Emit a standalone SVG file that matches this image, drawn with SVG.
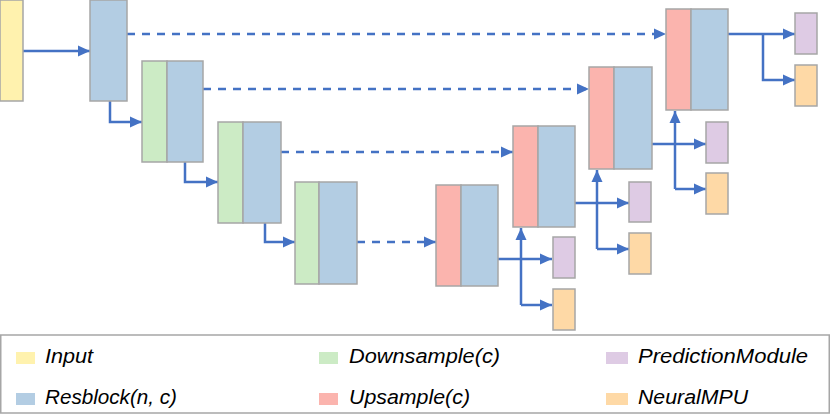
<svg xmlns="http://www.w3.org/2000/svg" width="831" height="415" viewBox="0 0 831 415">
<style>
.b{stroke:#a6a6a6;stroke-width:1.5}
.in{fill:#fff2ae}.rs{fill:#b3cde3}.dn{fill:#ccebc5}.up{fill:#fbb4ae}.pm{fill:#decbe4}.nm{fill:#fed9a6}
.c{fill:none;stroke:#4472c4;stroke-width:2.5}
.d{stroke-dasharray:8 7}
.a{marker-end:url(#ah)}
.t{font-family:"Liberation Sans",Arial,sans-serif;font-style:italic;font-size:20px;fill:#000}
</style>
<defs>
<marker id="ah" markerUnits="userSpaceOnUse" markerWidth="12" markerHeight="12" viewBox="0 0 12 12" refX="12" refY="6" orient="auto">
<path d="M0,0.5 L12,6 L0,11.5 Z" fill="#4472c4"/>
</marker>
</defs>
<g id="connectors">
<path class="c a" d="M23,51 H90"/>
<path class="c d a" d="M127,34 H666"/>
<path class="c a" d="M110,101 V122 H142"/>
<path class="c d a" d="M203,89 H589"/>
<path class="c a" d="M185,162 V182 H218"/>
<path class="c d a" d="M281,152 H513"/>
<path class="c a" d="M265,223 V242 H295"/>
<path class="c d a" d="M357,242 H436"/>
<path class="c a" d="M498,259 H552"/>
<path class="c a" d="M521,305 V228"/>
<path class="c a" d="M521,305 H552"/>
<path class="c a" d="M575,203 H629"/>
<path class="c a" d="M597,249 V170"/>
<path class="c a" d="M597,249 H629"/>
<path class="c a" d="M652,144 H706"/>
<path class="c a" d="M675,189 V111"/>
<path class="c a" d="M675,189 H706"/>
<path class="c a" d="M728,34 H795"/>
<path class="c a" d="M763,34 V80 H795"/>
</g>
<g id="input"><rect class="b in" x="0" y="0" width="23" height="101"/></g>
<g id="resblock1"><rect class="b rs" x="90" y="0" width="37" height="101"/></g>
<g id="down1"><rect class="b dn" x="142" y="61" width="25" height="101"/><rect class="b rs" x="167" y="61" width="36" height="101"/></g>
<g id="down2"><rect class="b dn" x="218" y="122" width="25" height="101"/><rect class="b rs" x="243" y="122" width="38" height="101"/></g>
<g id="down3"><rect class="b dn" x="295" y="182" width="24" height="102"/><rect class="b rs" x="319" y="182" width="38" height="102"/></g>
<g id="up1"><rect class="b up" x="436" y="185" width="25" height="101"/><rect class="b rs" x="461" y="185" width="37" height="101"/></g>
<g id="up2"><rect class="b up" x="513" y="126" width="25" height="101"/><rect class="b rs" x="538" y="126" width="37" height="101"/></g>
<g id="up3"><rect class="b up" x="589" y="67" width="25" height="102"/><rect class="b rs" x="614" y="67" width="38" height="102"/></g>
<g id="up4"><rect class="b up" x="666" y="9" width="25" height="101"/><rect class="b rs" x="691" y="9" width="37" height="101"/></g>
<g id="pm1"><rect class="b pm" x="553" y="237" width="22" height="41"/></g>
<g id="nmpu1"><rect class="b nm" x="553" y="289" width="22" height="41"/></g>
<g id="pm2"><rect class="b pm" x="629" y="182" width="22" height="40"/></g>
<g id="nmpu2"><rect class="b nm" x="629" y="233" width="22" height="41"/></g>
<g id="pm3"><rect class="b pm" x="706" y="122" width="22" height="41"/></g>
<g id="nmpu3"><rect class="b nm" x="706" y="173" width="22" height="41"/></g>
<g id="pm4"><rect class="b pm" x="795" y="13" width="22" height="41"/></g>
<g id="nmpu4"><rect class="b nm" x="795" y="65" width="22" height="41"/></g>
<g id="legend">
<rect x="0.75" y="335" width="828.5" height="78" fill="#fff" stroke="#a6a6a6" stroke-width="1.5"/>
<rect class="in" x="16" y="352" width="19" height="12"/>
<text class="t" x="45" y="363" textLength="48" lengthAdjust="spacingAndGlyphs">Input</text>
<rect class="rs" x="16" y="393" width="19" height="12"/>
<text class="t" x="45" y="404" textLength="132" lengthAdjust="spacingAndGlyphs">Resblock(n, c)</text>
<rect class="dn" x="319" y="352" width="19" height="12"/>
<text class="t" x="349" y="363" textLength="151" lengthAdjust="spacingAndGlyphs">Downsample(c)</text>
<rect class="up" x="319" y="393" width="19" height="12"/>
<text class="t" x="349" y="404" textLength="121" lengthAdjust="spacingAndGlyphs">Upsample(c)</text>
<rect class="pm" x="606" y="352" width="22" height="12"/>
<text class="t" x="638" y="363" textLength="170" lengthAdjust="spacingAndGlyphs">PredictionModule</text>
<rect class="nm" x="606" y="393" width="22" height="12"/>
<text class="t" x="638" y="404" textLength="110" lengthAdjust="spacingAndGlyphs">NeuralMPU</text>
</g>
</svg>
